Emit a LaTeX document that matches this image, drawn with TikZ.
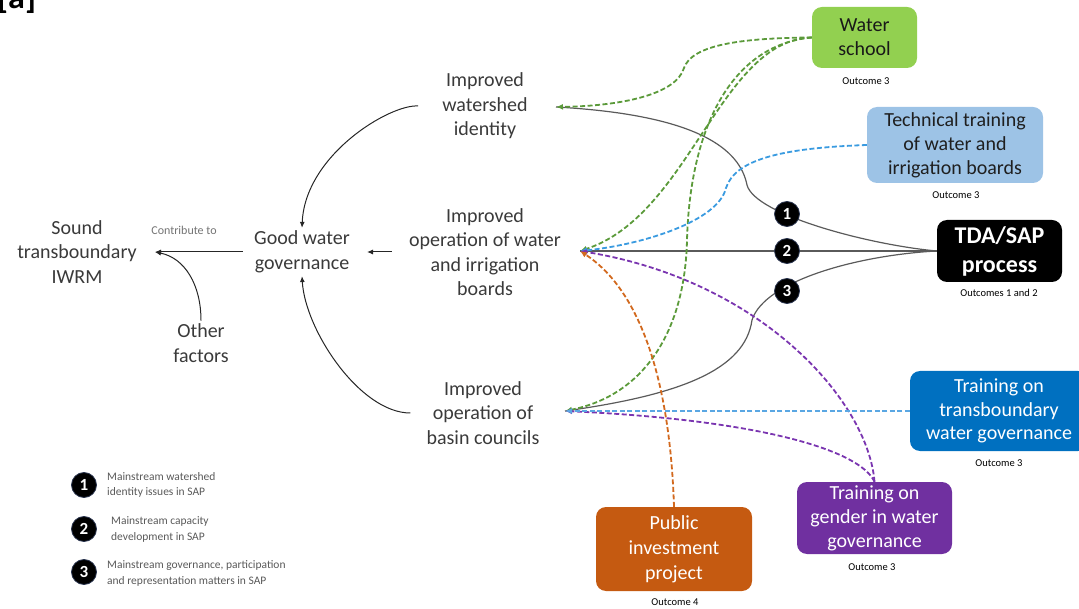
\documentclass[tikz,border=0pt]{standalone}
\usepackage{fontspec}
\setmainfont{Carlito}
\usetikzlibrary{arrows.meta}

\definecolor{txt}{HTML}{3A3A3A}
\definecolor{ln}{HTML}{5A5A5A}
\definecolor{wsgreen}{HTML}{92D050}
\definecolor{techblue}{HTML}{9DC3E6}
\definecolor{transblue}{HTML}{0070C0}
\definecolor{genderpurple}{HTML}{7030A0}
\definecolor{pubor}{HTML}{C55A11}
\definecolor{gline}{HTML}{5B9A3A}
\definecolor{bline}{HTML}{3A9BE0}
\definecolor{tline}{HTML}{5AA7E3}
\definecolor{pline}{HTML}{7A35B0}
\definecolor{oline}{HTML}{D2691E}
\definecolor{badgerim}{HTML}{2A3550}

\begin{document}
\begin{tikzpicture}[x=1pt,y=-1pt,
  lbl/.style={align=center, text=txt, font=\fontsize{20}{24.5}\selectfont, inner sep=3pt},
  box/.style={rounded corners=10pt, align=center, font=\fontsize{20}{24}\selectfont, inner sep=2pt},
  outc/.style={font=\fontsize{10.5}{12}\selectfont, text=black, inner sep=0pt},
  legtxt/.style={anchor=west, align=left, text=black!65, font=\fontsize{11.5}{15.5}\selectfont, inner sep=0pt},
  badge/.style={circle, fill=black, draw=badgerim, line width=0.8pt, minimum size=25pt, inner sep=0pt, text=white, font=\fontsize{17}{17}\selectfont\bfseries},
  solidln/.style={draw=ln, line width=1.2pt},
  arr/.style={draw=black!85, line width=1pt, -{Latex[length=6pt,width=5pt]}},
  dsh/.style={line width=1.8pt, dash pattern=on 5pt off 2.5pt, -{Latex[length=7pt,width=6pt]}},
]
\useasboundingbox (0,0) rectangle (1079,609);

% panel tag
\node[anchor=base west, font=\fontsize{34}{34}\selectfont\bfseries, inner sep=0pt] (tag) at (-3,9) {[a]};

% outcome chain
\node[lbl] (snd) at (77,252) {Sound\\transboundary\\IWRM};
\node[lbl] (gw)  at (302,252) {Good water\\governance};
\node[lbl] (oth) at (201,343) {Other\\factors};
\node[lbl] (ws)  at (485,106) {Improved\\watershed\\identity};
\node[lbl] (bo)  at (485,252) {Improved\\operation of water\\and irrigation\\boards};
\node[lbl] (bc)  at (483,413) {Improved\\operation of\\basin councils};
\node[font=\fontsize{12}{12}\selectfont, text=black!55, inner sep=0pt] (contrib) at (184,230) {Contribute to};

\coordinate (sndIn) at (155,252);
\coordinate (gwIn)  at (367,252);
\coordinate (wsHub) at (556,107);
\coordinate (boHub) at (580,251);
\coordinate (bcHub) at (565,411);

\draw[arr] ([xshift=-8pt]gw.west) -- (sndIn);
\draw[arr] (oth.north) .. controls (201,285) and (185,258) .. (sndIn);
\draw[arr] ([xshift=-14pt]bo.west) -- (gwIn);
\draw[arr] ([xshift=-21pt]ws.west) .. controls (390,104) and (305,155) .. (gw.north);
\draw[arr] ([xshift=-13pt]bc.west) .. controls (360,413) and (305,330) .. (gw.south);

% activity boxes
\node[box, fill=wsgreen, text=black!90, minimum width=105pt, minimum height=61pt] (water) at (864.5,37.5) {Water\\school};
\node[outc] (o1) at (866,81) {Outcome 3};
\node[box, fill=techblue, text=black!88, minimum width=176pt, minimum height=76pt] (tech) at (955,145) {Technical training\\of water and\\irrigation boards};
\node[outc] (o2) at (956,195) {Outcome 3};
\node[box, fill=black, text=white, minimum width=125pt, minimum height=62pt, font=\fontsize{24}{29}\selectfont\bfseries] (tda) at (999.5,251) {TDA/SAP\\process};
\node[outc] (o3) at (999,293) {Outcomes 1 and 2};
\node[box, fill=transblue, text=white, minimum width=178pt, minimum height=80pt, font=\fontsize{20}{23.5}\selectfont] (trans) at (999,411) {Training on\\transboundary\\water governance};
\node[outc] (o4) at (999,463) {Outcome 3};
\node[box, fill=genderpurple, text=white, minimum width=155pt, minimum height=72pt] (gender) at (874.5,518) {Training on\\gender in water\\governance};
\node[outc] (o5) at (872,567) {Outcome 3};
\node[box, fill=pubor, text=white, minimum width=156pt, minimum height=84pt, font=\fontsize{20}{25}\selectfont] (public) at (674,549) {Public\\investment\\project};
\node[outc] (o6) at (675,602) {Outcome 4};

% TDA/SAP process links
\draw[solidln] (tda.west) .. controls (870,245) and (755,215) .. (747,185) .. controls (740,150) and (700,115) .. (wsHub);
\draw[solidln] (tda.west) -- (boHub);
\draw[solidln] (tda.west) .. controls (860,255) and (765,280) .. (752,320) .. controls (745,370) and (680,395) .. (bcHub);
\node[badge] (b1) at (787,214) {1};
\node[badge] (b2) at (787,251) {2};
\node[badge] (b3) at (787,291) {3};

% activity links
\draw[dsh, draw=gline, -{Latex[length=7pt,width=6pt]}, color=gline] (water.west) .. controls (740,38) and (692,45) .. (684,68) .. controls (676,95) and (620,106) .. (wsHub);
\draw[dsh, color=gline] (water.west) .. controls (720,40) and (690,215) .. (boHub);
\draw[dsh, color=gline] (water.west) .. controls (730,45) and (690,130) .. (687,240) .. controls (685,330) and (645,395) .. (bcHub);
\draw[dsh, color=bline] (tech.west) .. controls (780,148) and (735,160) .. (726,188) .. controls (718,222) and (640,245) .. (boHub);
\draw[dsh, color=pline] (gender.north) .. controls (868,400) and (760,280) .. (boHub);
\draw[dsh, color=pline] (gender.north) .. controls (860,450) and (760,420) .. (bcHub);
\draw[dsh, color=tline] (trans.west) -- (bcHub);
\draw[dsh, color=oline] (public.north) .. controls (670,380) and (640,290) .. (boHub);

% legend
\node[badge] (l1) at (84,485) {1};
\node[legtxt] (t1) at (107,485) {Mainstream watershed\\identity issues in SAP};
\node[badge] (l2) at (84,529) {2};
\node[legtxt] (t2) at (111,529.5) {Mainstream capacity\\development in SAP};
\node[badge] (l3) at (84,572) {3};
\node[legtxt] (t3) at (107,573.5) {Mainstream governance, participation\\and representation matters in SAP};
\end{tikzpicture}
\end{document}
